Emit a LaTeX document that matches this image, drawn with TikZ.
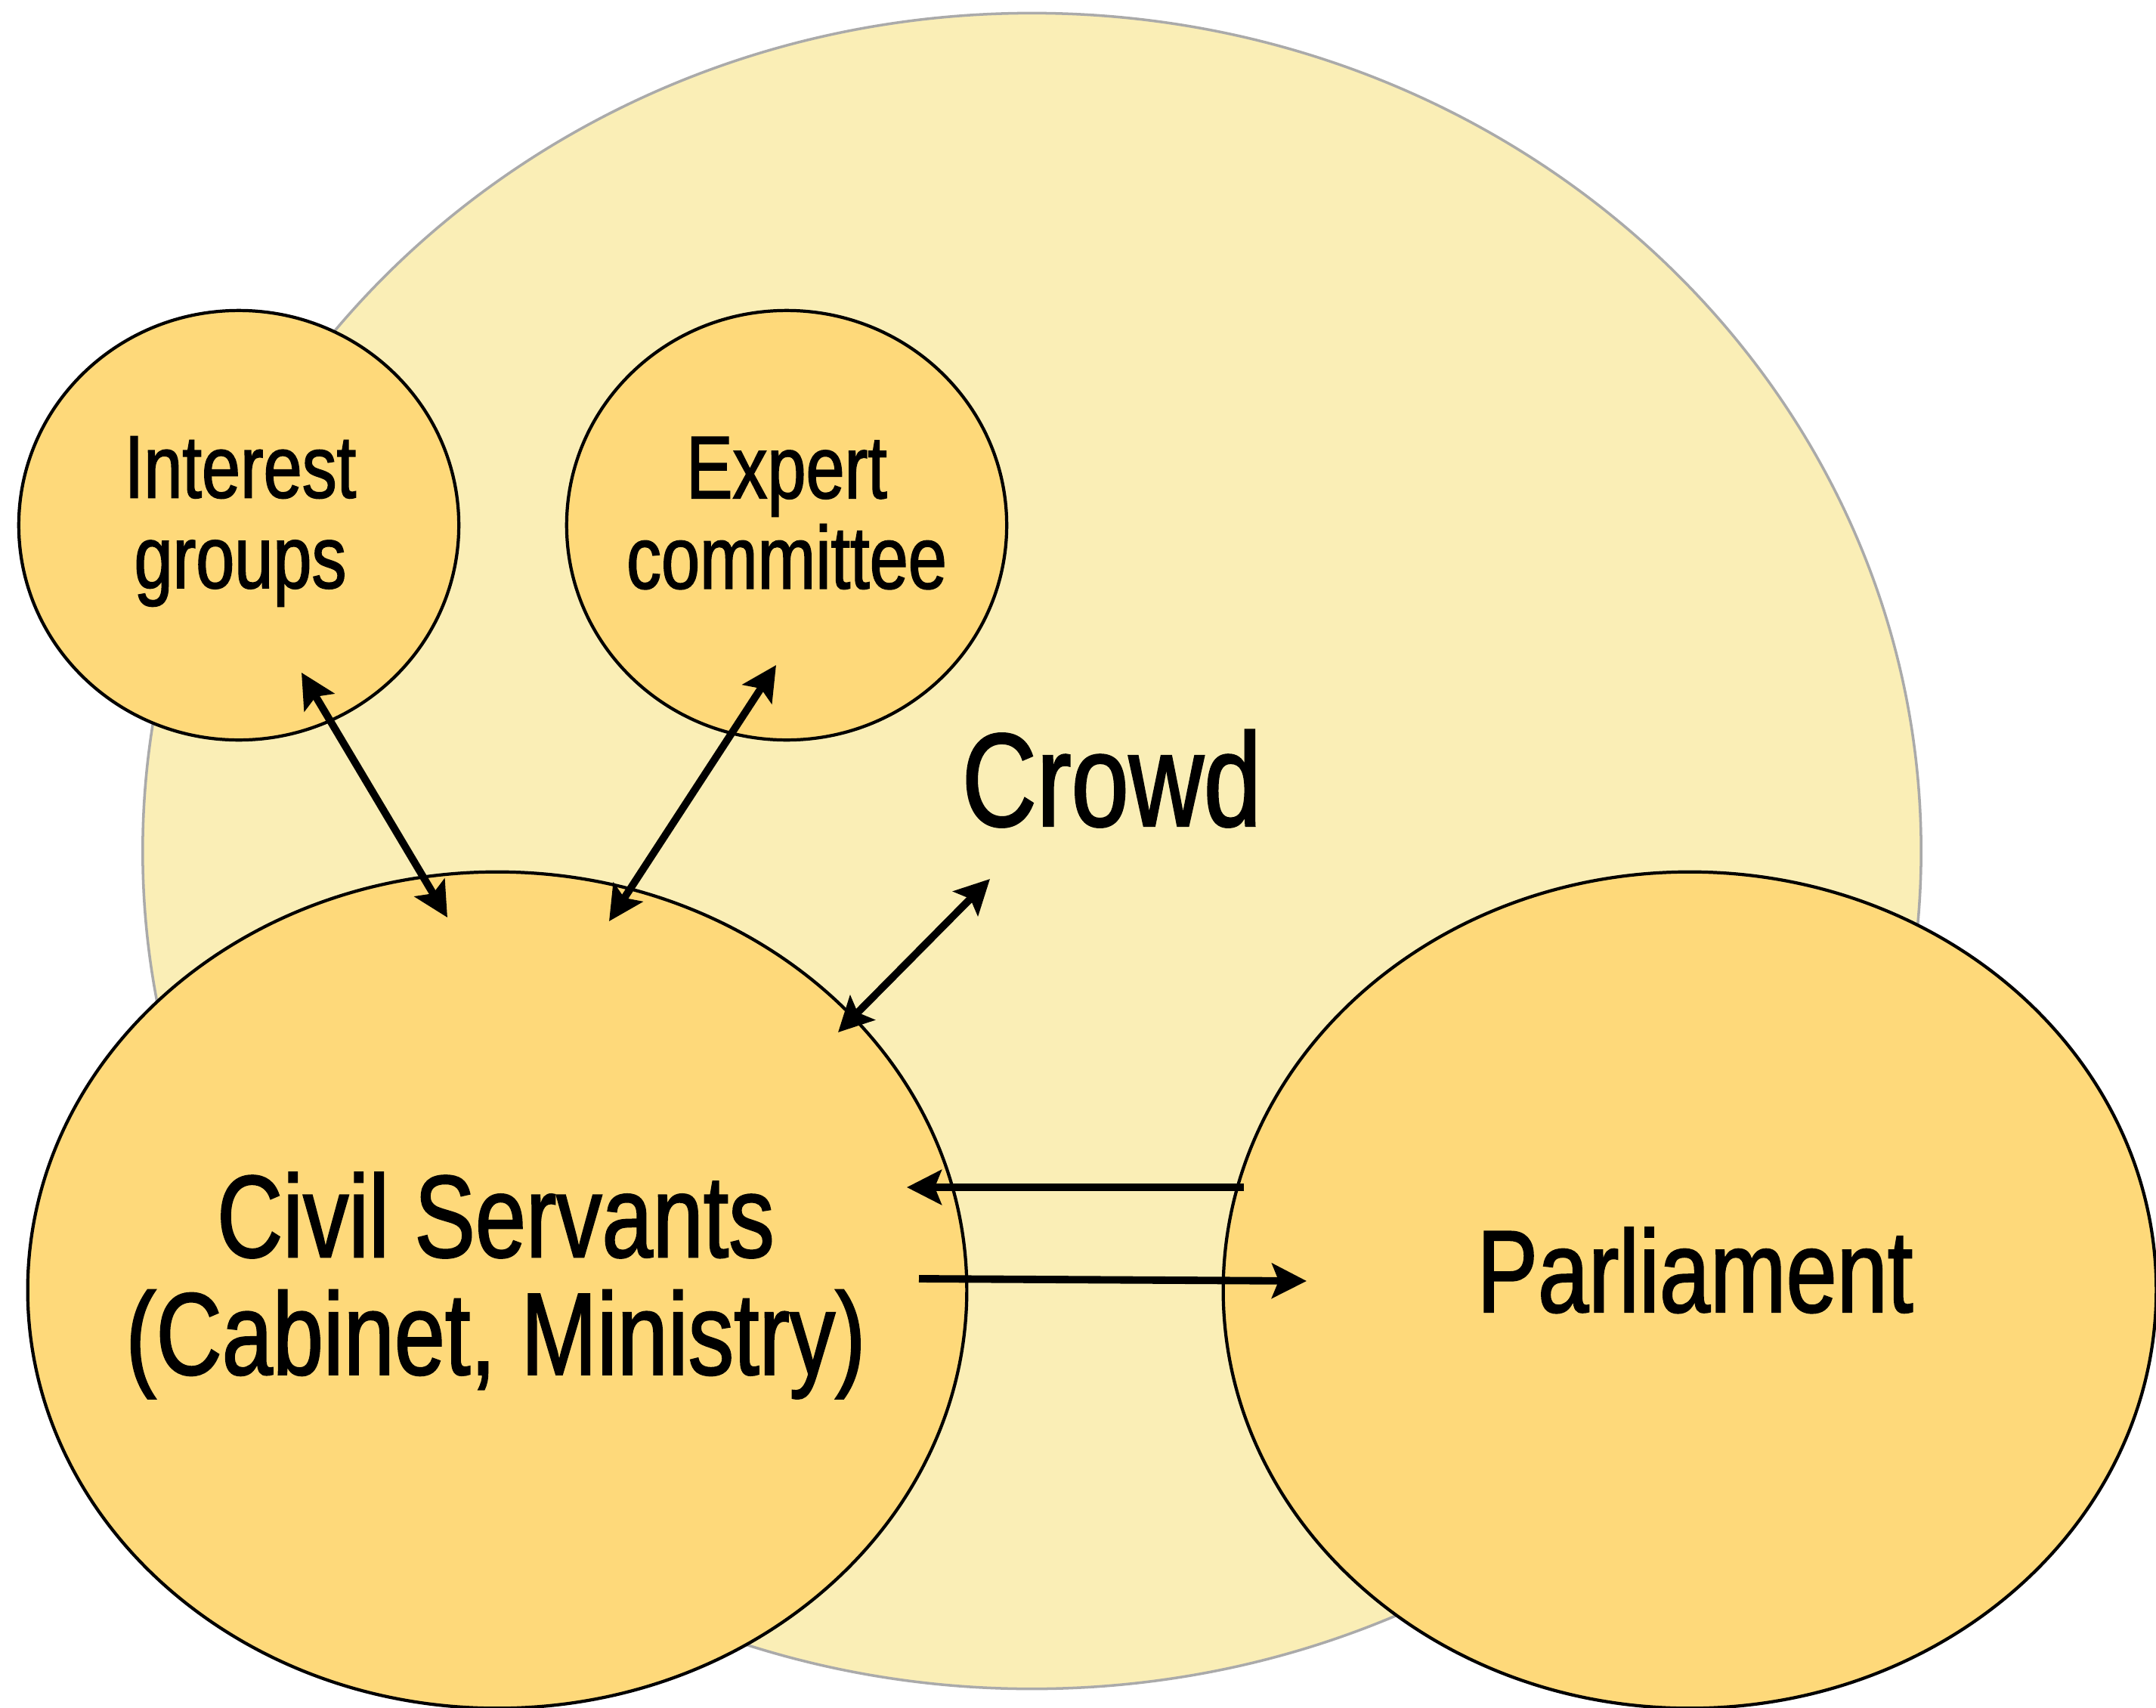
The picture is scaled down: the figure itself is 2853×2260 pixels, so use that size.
\documentclass[tikz,border=0pt]{standalone}
\usepackage{fontspec}
\setmainfont{Liberation Sans}[FakeStretch=0.78,FakeBold=1.4]
\usetikzlibrary{shapes.geometric,arrows.meta}
\definecolor{crowdfill}{RGB}{250,238,182}
\definecolor{actorfill}{RGB}{254,217,122}
\definecolor{crowdline}{RGB}{170,170,170}
\newcommand{\smallsize}{\fontsize{33.5}{34}\selectfont}
\newcommand{\midsize}{\fontsize{44}{44.2}\selectfont}
\newcommand{\bigsize}{\fontsize{50}{52}\selectfont}
\begin{document}
\begin{tikzpicture}[x=0.01cm,y=-0.01cm,
  crowdshape/.style={ellipse, draw=crowdline, line width=1pt, fill=crowdfill, inner sep=0pt},
  actor/.style={ellipse, draw=black, line width=1.2pt, fill=actorfill, inner sep=0pt},
  lbl/.style={align=center, inner sep=0pt, text=black},
  tip/.tip={Stealth[length=13pt,width=13pt,inset=2.5pt]},
  link/.style={line width=2.8pt, -tip},
  dlink/.style={line width=2.8pt, tip-tip}]
\useasboundingbox (0,0) rectangle (2853,2260);
% crowd background
\node[crowdshape, minimum width=23.52cm, minimum height=22.16cm] (crowd) at (1365.5,1126) {};
% actors
\node[actor, minimum width=5.82cm, minimum height=5.68cm] (interest) at (316,695) {};
\node[actor, minimum width=5.82cm, minimum height=5.68cm] (expert) at (1041,695) {};
\node[actor, minimum width=12.42cm, minimum height=11.06cm] (civil) at (658,1707) {};
\node[actor, minimum width=12.34cm, minimum height=11.06cm] (parl) at (2236,1707) {};
% labels
\node[lbl, font=\smallsize] (interesttxt) at (318,690) {Interest\\groups};
\node[lbl, font=\smallsize] (experttxt) at (1041,679) {Expert\\committee};
\node[lbl, font=\bigsize, anchor=base] (crowdtxt) at (1471,1093) {Crowd};
\node[lbl, font=\midsize] (civiltxt) at (656,1701) {Civil Servants\\(Cabinet, Ministry)};
\node[lbl, font=\midsize, anchor=base] (parltxt) at (2243,1736) {Parliament};
% connector ends
\coordinate (iga) at (399,890);
\coordinate (igb) at (592,1214);
\coordinate (eca) at (1027,880);
\coordinate (ecb) at (806,1219);
\coordinate (cra) at (1310,1163);
\coordinate (crb) at (1109,1366);
\coordinate (pca) at (1646,1571);
\coordinate (pcb) at (1200,1571);
\coordinate (cpa) at (1216,1692);
\coordinate (cpb) at (1729,1695);
% connectors
\draw[dlink] (iga) -- (igb);
\draw[dlink] (eca) -- (ecb);
\draw[dlink] (cra) -- (crb);
\draw[link] (pca) -- (pcb);
\draw[link] (cpa) -- (cpb);
\end{tikzpicture}
\end{document}
